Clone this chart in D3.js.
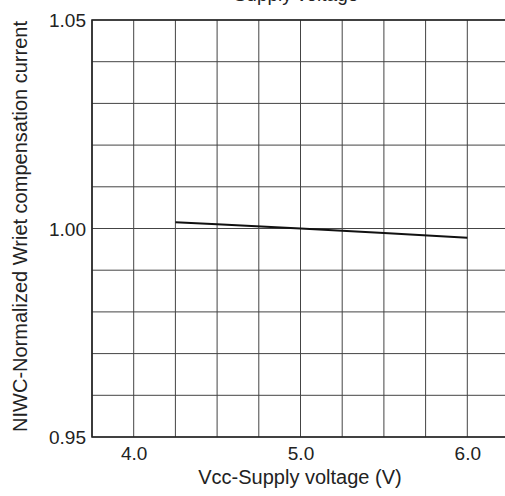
<!DOCTYPE html>
<html>
<head>
<meta charset="utf-8">
<script src="https://cdn.jsdelivr.net/npm/d3@7"></script>
<style>
  html, body { margin: 0; padding: 0; background: #fff; }
  svg { display: block; font-family: "Liberation Sans", Arial, sans-serif; }
</style>
</head>
<body>
<div id="chart"></div>
<script>
// supply voltage (V) vs normalized write compensation current
var voltage = [4.25, 4.5, 5.0, 5.5, 6.0];
var niwc = [1.0015, 1.001, 1.0, 0.9989, 0.9978];
var xTicks = [4.0, 5.0, 6.0];
var yTicks = [0.95, 1.00, 1.05];

(function() {
  var width = 505, height = 496;
  var svg = d3.select('#chart').append('svg')
    .attr('width', width)
    .attr('height', height);

  var x = d3.scaleLinear().domain([3.75, 6.25]).range([92, 509]);
  var y = d3.scaleLinear().domain([0.95, 1.05]).range([437, 20]);

  // grid
  var grid = svg.append('g')
    .attr('stroke', '#444')
    .attr('stroke-width', 1);
  d3.range(3.75, 6.26, 0.25).forEach(function(v) {
    grid.append('line')
      .attr('x1', x(v)).attr('x2', x(v))
      .attr('y1', y(0.95)).attr('y2', y(1.05));
  });
  d3.range(0.95, 1.0501, 0.01).forEach(function(v) {
    grid.append('line')
      .attr('x1', x(3.75)).attr('x2', x(6.25))
      .attr('y1', y(v)).attr('y2', y(v));
  });

  // frame
  svg.append('path')
    .attr('d', 'M' + x(6.25) + ',' + y(1.05) + 'H' + x(3.75) + 'V' + y(0.95) + 'H' + x(6.25))
    .attr('fill', 'none')
    .attr('stroke', '#222')
    .attr('stroke-width', 1.6);

  // axes (labels only)
  var xAxis = d3.axisBottom(x).tickValues(xTicks).tickFormat(d3.format('.1f')).tickSize(0).tickPadding(0);
  var gx = svg.append('g').attr('transform', 'translate(0,' + y(0.95) + ')').call(xAxis);
  gx.select('.domain').remove();
  gx.selectAll('text')
    .attr('y', 23).attr('dy', 0)
    .attr('font-size', 19).attr('font-family', '"Liberation Sans", Arial, sans-serif')
    .attr('fill', '#222');

  var yAxis = d3.axisLeft(y).tickValues(yTicks).tickFormat(d3.format('.2f')).tickSize(0).tickPadding(6);
  var gy = svg.append('g').attr('transform', 'translate(' + x(3.75) + ',0)').call(yAxis);
  gy.select('.domain').remove();
  gy.selectAll('text')
    .attr('dy', '0.35em')
    .attr('font-size', 19).attr('font-family', '"Liberation Sans", Arial, sans-serif')
    .attr('fill', '#222');

  // data line
  var line = d3.line()
    .x(function(d, i) { return x(voltage[i]); })
    .y(function(d) { return y(d); });
  svg.append('path')
    .datum(niwc)
    .attr('d', line)
    .attr('fill', 'none')
    .attr('stroke', '#111')
    .attr('stroke-width', 2);

  // titles
  svg.append('text')
    .attr('x', 296).attr('y', 0.5)
    .attr('text-anchor', 'middle')
    .attr('font-size', 19)
    .attr('fill', '#222')
    .text('Supply voltage');

  svg.append('text')
    .attr('x', 300).attr('y', 484)
    .attr('text-anchor', 'middle')
    .attr('font-size', 20)
    .attr('fill', '#222')
    .text('Vcc-Supply voltage (V)');

  svg.append('text')
    .attr('transform', 'translate(27,226.5) rotate(-90)')
    .attr('text-anchor', 'middle')
    .attr('font-size', 20)
    .attr('fill', '#222')
    .text('NIWC-Normalized Wriet compensation current');
})();
</script>
</body>
</html>
